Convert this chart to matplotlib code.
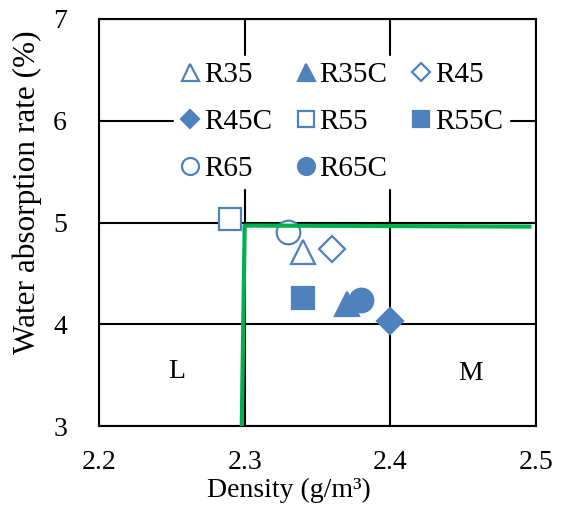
import matplotlib
matplotlib.use("Agg")
import matplotlib.pyplot as plt

plt.rcParams['font.family'] = ['Liberation Serif', 'DejaVu Serif']

labels = ["R35", "R35C", "R45", "R45C", "R55", "R55C", "R65", "R65C"]
density = [2.34, 2.37, 2.36, 2.40, 2.29, 2.34, 2.33, 2.38]
absorption = [4.71, 4.20, 4.74, 4.03, 5.03, 4.26, 4.91, 4.24]
markers = ["^", "^", "D", "D", "s", "s", "o", "o"]
filled = [False, True, False, True, False, True, False, True]
msizes = [17, 17, 13, 13, 16.5, 16.5, 17, 17]

limit_x = [2.298, 2.300, 2.497]
limit_y = [3.0, 4.97, 4.96]

region_labels = ["L", "M"]
region_x = [2.253, 2.455]
region_y = [3.54, 3.52]

blue = "#4F81BD"
green = "#00B050"

fig = plt.figure(figsize=(5.62, 5.08), dpi=100)
ax = fig.add_axes([0.1762, 0.1614, 0.7775, 0.8012])

handles = {}
for lab, x, y, m, f, ms in zip(labels, density, absorption, markers, filled, msizes):
    h, = ax.plot([x], [y], linestyle='none', marker=m, markersize=ms,
                 markerfacecolor=blue if f else 'white', markeredgecolor=blue,
                 markeredgewidth=1.6, zorder=4, label=lab)
    handles[lab] = h

ax.plot(limit_x, limit_y, color=green, linewidth=3, zorder=5, solid_capstyle='butt')

for t, x, y in zip(region_labels, region_x, region_y):
    ax.text(x, y, t, fontsize=20, ha='center', va='center')

ax.set_xlim(2.2, 2.5)
ax.set_ylim(3, 7)
ax.set_xticks([2.2, 2.3, 2.4, 2.5])
ax.set_yticks([3, 4, 5, 6, 7])
ax.set_xticklabels(["2.2", "2.3", "2.4", "2.5"])
ax.set_yticklabels(["3", "4", "5", "6", "7"])
ax.tick_params(length=0, labelsize=20)
ax.tick_params(axis='x', pad=17)
ax.tick_params(axis='y', pad=23)
ax.grid(True, color='black', linewidth=1.5, zorder=1)
ax.set_axisbelow(True)
for s in ax.spines.values():
    s.set_linewidth(1.5)
    s.set_color('black')

ax.set_xlabel("Density (g/m³)", fontsize=20, labelpad=0)
ax.xaxis.set_label_coords(0.435, -0.127)
ax.set_ylabel("Water absorption rate (%)", fontsize=22.5)
ax.yaxis.set_label_coords(-0.131, 0.575)

order = ["R35", "R45C", "R65", "R35C", "R55", "R65C", "R45", "R55C"]
leg = ax.legend([handles[k] for k in order], order, ncol=3, loc='upper left',
                bbox_to_anchor=(0.138, 0.945), frameon=True, fontsize=21,
                markerscale=0.72, handlelength=0.7, handletextpad=0.13,
                columnspacing=0.8, labelspacing=0.7, borderpad=0.2,
                facecolor='white', edgecolor='white', framealpha=1)
leg.set_zorder(3)

fig.savefig("out.png", dpi=100)
